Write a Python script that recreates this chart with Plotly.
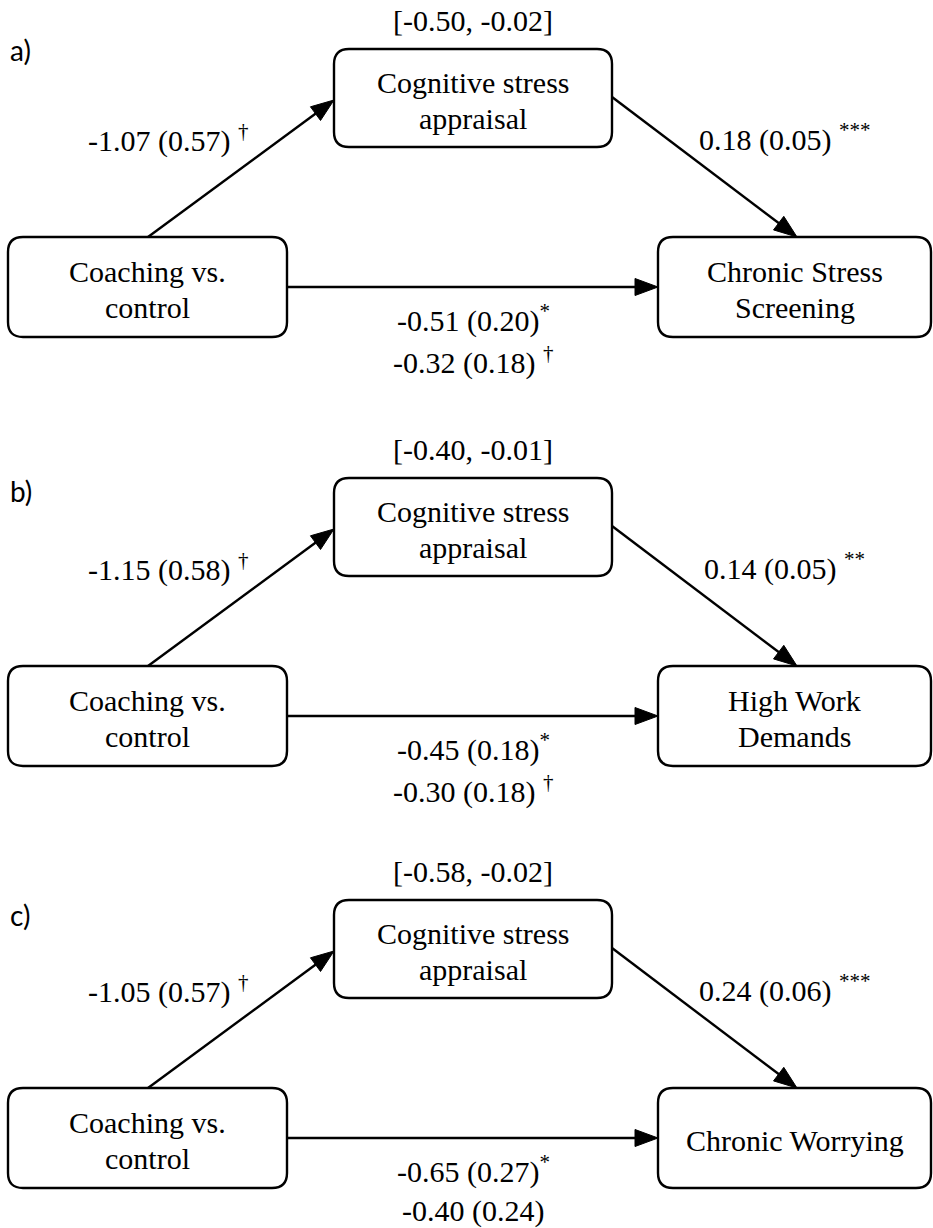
import plotly.graph_objects as go
import math

# ---------------- data (text content of the three mediation diagrams) ----------------
panel_labels = ["a)", "b)", "c)"]
ci_text = ["[-0.50, -0.02]", "[-0.40, -0.01]", "[-0.58, -0.02]"]
predictor_lines = ["Coaching vs.", "control"]
mediator_lines = ["Cognitive stress", "appraisal"]
outcome_lines = [["Chronic Stress", "Screening"], ["High Work", "Demands"], ["Chronic Worrying"]]
path_a = ["-1.07 (0.57)", "-1.15 (0.58)", "-1.05 (0.57)"]
sig_a = ["†", "†", "†"]
path_b = ["0.18 (0.05)", "0.14 (0.05)", "0.24 (0.06)"]
sig_b = ["***", "**", "***"]
direct_eff = ["-0.51 (0.20)", "-0.45 (0.18)", "-0.65 (0.27)"]
sig_direct = ["*", "*", "*"]
total_eff = ["-0.32 (0.18)", "-0.30 (0.18)", "-0.40 (0.24)"]
sig_total = ["†", "†", ""]

# ---------------- layout constants (pixels; axes are 1:1 with pixels) ----------------
W, H = 933, 1228
PANEL_OFFSETS = [0, 429, 851]
LABEL_Y = [50, 62, 64]
BOX_L = (8, 237, 287, 337)
BOX_M = (334, 49, 612, 147)
BOX_R = (658, 237, 931, 337)
RADIUS = 15
LW = 2.4
HEAD_LEN, HEAD_W = 23, 17
SERIF = "Liberation Serif"
FS = 30
LINE_GAP = 36

shapes = []
annotations = []


def rounded_rect(x0, y0, x1, y1, r):
    return (f"M{x0+r},{y0} L{x1-r},{y0} Q{x1},{y0} {x1},{y0+r} "
            f"L{x1},{y1-r} Q{x1},{y1} {x1-r},{y1} L{x0+r},{y1} "
            f"Q{x0},{y1} {x0},{y1-r} L{x0},{y0+r} Q{x0},{y0} {x0+r},{y0} Z")


def arrow(tx, ty, hx, hy):
    dx, dy = hx - tx, hy - ty
    d = math.hypot(dx, dy)
    ux, uy = dx / d, dy / d
    nx, ny = -uy, ux
    bx, by = hx - HEAD_LEN * ux, hy - HEAD_LEN * uy
    shapes.append(dict(type="line", xref="x", yref="y", x0=tx, y0=ty, x1=bx + ux * 2, y1=by + uy * 2,
                       line=dict(color="black", width=LW)))
    p1 = (bx + nx * HEAD_W / 2, by + ny * HEAD_W / 2)
    p2 = (bx - nx * HEAD_W / 2, by - ny * HEAD_W / 2)
    shapes.append(dict(type="path", xref="x", yref="y",
                       path=f"M{hx},{hy} L{p1[0]},{p1[1]} L{p2[0]},{p2[1]} Z",
                       fillcolor="black", line=dict(color="black", width=1)))


def text(x, y, s, size=FS, family=SERIF, xanchor="center"):
    annotations.append(dict(x=x, y=y, xref="x", yref="y", text=s, showarrow=False,
                            xanchor=xanchor, yanchor="middle",
                            font=dict(family=family, size=size, color="black")))


def box_lines(box, lines, oy):
    x0, y0, x1, y1 = box
    cx = (x0 + x1) / 2
    cy = (y0 + y1) / 2 + oy + 2
    n = len(lines)
    for i, ln in enumerate(lines):
        text(cx, cy + (i - (n - 1) / 2) * LINE_GAP, ln)


for i in range(3):
    oy = PANEL_OFFSETS[i]
    for b in (BOX_L, BOX_M, BOX_R):
        shapes.append(dict(type="path", xref="x", yref="y",
                           path=rounded_rect(b[0], b[1] + oy, b[2], b[3] + oy, RADIUS),
                           line=dict(color="black", width=LW), fillcolor="rgba(0,0,0,0)"))
    # arrows
    arrow(148, BOX_L[1] + oy, BOX_M[0], 100 + oy)
    arrow(BOX_M[2], 97 + oy, 797, BOX_R[1] + oy)
    arrow(BOX_L[2], 287 + oy, BOX_R[0], 287 + oy)

    # box texts
    box_lines(BOX_L, predictor_lines, oy)
    box_lines(BOX_M, mediator_lines, oy)
    box_lines(BOX_R, outcome_lines[i], oy)

    # panel letter
    text(8, LABEL_Y[i] + oy, panel_labels[i], size=28, family="Lato", xanchor="left")
    # CI of indirect effect
    text(473, 20 + oy, ci_text[i])
    # path labels
    text(168, 138 + oy, f"{path_a[i]} <sup>{sig_a[i]}</sup>")
    text(784, 137 + oy, f"{path_b[i]} <sup>{sig_b[i]}</sup>")
    text(473, 318 + oy, f"{direct_eff[i]}<sup>{sig_direct[i]}</sup>")
    tot = f"{total_eff[i]} <sup>{sig_total[i]}</sup>" if sig_total[i] else total_eff[i]
    text(473, 360 + oy, tot)

fig = go.Figure()
fig.update_layout(
    width=W, height=H, autosize=False,
    margin=dict(l=0, r=0, t=0, b=0, pad=0),
    paper_bgcolor="white", plot_bgcolor="white",
    xaxis=dict(range=[0, W], visible=False, fixedrange=True),
    yaxis=dict(range=[H, 0], visible=False, fixedrange=True),
    shapes=shapes, annotations=annotations, showlegend=False,
)
fig.write_html("out.html", config={"displayModeBar": False},
               post_script="document.body.style.margin='0';")
